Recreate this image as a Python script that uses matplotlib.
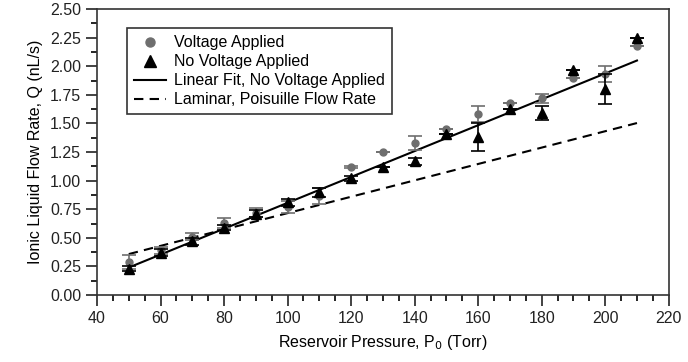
import numpy as np
import matplotlib
matplotlib.use("Agg")
import matplotlib.pyplot as plt
from matplotlib.ticker import MultipleLocator

plt.rcParams['font.family'] = ['Liberation Sans', 'DejaVu Sans']

# reservoir pressure (Torr)
pressure = [50, 60, 70, 80, 90, 100, 110, 120, 130, 140, 150, 160, 170, 180, 190, 200, 210]

# flow rate with voltage applied (nL/s) and its error
q_volt = [0.29, 0.39, 0.51, 0.63, 0.72, 0.77, 0.87, 1.12, 1.25, 1.33, 1.45, 1.58, 1.68, 1.72, 1.90, 1.93, 2.18]
err_volt = [0.06, 0.03, 0.03, 0.04, 0.04, 0.05, 0.07, 0.01, 0.0, 0.06, 0.0, 0.07, 0.0, 0.04, 0.0, 0.07, 0.0]

# flow rate without voltage (nL/s) and its error
q_novolt = [0.23, 0.37, 0.47, 0.59, 0.71, 0.81, 0.90, 1.02, 1.12, 1.17, 1.41, 1.38, 1.63, 1.59, 1.97, 1.80, 2.25]
err_novolt = [0.02, 0.03, 0.03, 0.02, 0.03, 0.03, 0.04, 0.02, 0.0, 0.03, 0.0, 0.12, 0.0, 0.06, 0.0, 0.13, 0.0]

# linear fit of the no-voltage data and laminar Poiseuille slope
fit_slope, fit_icept = 0.01131, -0.325
poiseuille_k = 0.00716

fig = plt.figure(figsize=(6.88, 3.62), dpi=100)
ax = fig.add_axes([0.141, 0.185, 0.831, 0.79])

p = np.array(pressure)
ax.plot(p, fit_slope * p + fit_icept, color='black', lw=1.5, zorder=2,
        label='Linear Fit, No Voltage Applied')
ax.plot(p, poiseuille_k * p, color='black', lw=1.5, ls=(0, (4.5, 3)), zorder=2,
        label='Laminar, Poisuille Flow Rate')

ax.errorbar(pressure, q_volt, yerr=err_volt, fmt='o', color='#6e6e6e', ms=5,
            ecolor='#6e6e6e', elinewidth=1.2, capsize=5, capthick=1.2, zorder=3,
            label='Voltage Applied')
ax.errorbar(pressure, q_novolt, yerr=err_novolt, fmt='^', color='black', ms=7,
            ecolor='black', elinewidth=1.2, capsize=5, capthick=1.2, zorder=4,
            label='No Voltage Applied')

ax.set_xlim(40, 220)
ax.set_ylim(0, 2.5)
ax.xaxis.set_major_locator(MultipleLocator(20))
ax.xaxis.set_minor_locator(MultipleLocator(5))
ax.yaxis.set_major_locator(MultipleLocator(0.25))
ax.yaxis.set_minor_locator(MultipleLocator(0.125))
ax.yaxis.set_major_formatter(plt.FormatStrFormatter('%.2f'))
ax.tick_params(which='major', direction='out', length=8, width=1.2, labelsize=11.5, colors='#222222')
ax.tick_params(which='minor', direction='out', length=4, width=1.2)
for s in ax.spines.values():
    s.set_linewidth(1.2)
    s.set_color('#333333')

ax.set_xlabel('Reservoir Pressure, P$_0$ (Torr)', fontsize=11.5, labelpad=5)
ax.set_ylabel('Ionic Liquid Flow Rate, Q (nL/s)', fontsize=11.5, labelpad=5)

h, l = ax.get_legend_handles_labels()
order = [2, 3, 0, 1]
handles = []
for i in order:
    hh = h[i]
    if hasattr(hh, 'lines'):
        hh = hh[0]
    handles.append(hh)
leg = ax.legend(handles, [l[i] for i in order], loc='upper left',
                bbox_to_anchor=(0.052, 0.934), borderaxespad=0, fontsize=11.5,
                frameon=True, fancybox=False, edgecolor='black',
                handlelength=2.0, handletextpad=0.5, labelspacing=0.25,
                borderpad=0.45, markerscale=1.3)
leg.get_frame().set_linewidth(1.2)

fig.savefig('out.png', dpi=100)
